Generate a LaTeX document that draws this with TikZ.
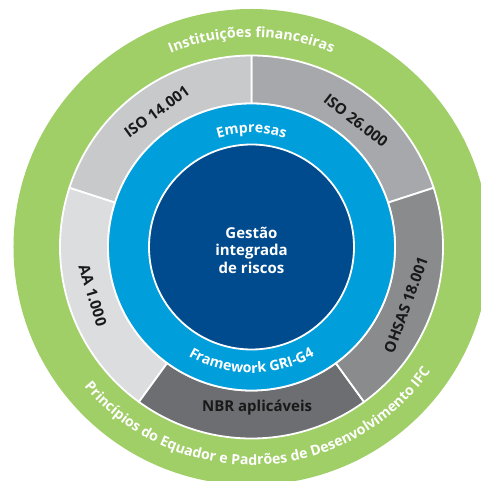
\documentclass[tikz,border=0pt]{standalone}
\usepackage{fontspec}
\setmainfont{Open Sans}
\usetikzlibrary{decorations.text}

\definecolor{ringgreen}{RGB}{160,206,103}
\definecolor{ringblue}{RGB}{0,158,219}
\definecolor{coreblue}{RGB}{0,75,141}
\definecolor{grayA}{RGB}{200,201,203}
\definecolor{grayB}{RGB}{167,168,171}
\definecolor{grayC}{RGB}{138,139,141}
\definecolor{grayD}{RGB}{109,110,113}
\definecolor{grayE}{RGB}{220,221,223}

\begin{document}
\begin{tikzpicture}[x=1pt,y=1pt,
  seglabel/.style={font=\fontsize{15}{17}\selectfont\bfseries, text=black!90, inner sep=0pt},
  corelabel/.style={font=\fontsize{15}{17.5}\selectfont\bfseries, text=white, align=center, inner sep=0pt},
  ringsep/.style={draw=white, line width=1.8pt},
  arctext/.style={decorate, decoration={text along path, text align=center,
    text={|\fontsize{14.2}{16}\selectfont\bfseries\color{white}|#1}}}
]
\clip (-251.5,-234) rectangle (229.5,247);
\useasboundingbox (-251.5,-234) rectangle (229.5,247);

% outer ring: financial institutions
\fill[ringgreen] (0,0) circle (238);

% standards ring, five equal sectors
\foreach \s/\e/\col in {18/90/grayB, 90/162/grayA, 162/234/grayE, 234/306/grayD, 306/378/grayC}
  \filldraw[fill=\col, ringsep]
    (\s:191.5) arc[start angle=\s, end angle=\e, radius=191.5]
    -- (\e:143.5) arc[start angle=\e, end angle=\s, radius=143.5] -- cycle;

% companies ring and core
\filldraw[fill=ringblue, ringsep] (0,0) circle (143.5);
\filldraw[fill=coreblue, ringsep] (0,0) circle (102.5);

% labels of the standards ring
\node[seglabel, rotate=36]  (iso14) at (125:165)   {ISO 14.001};
\node[seglabel, rotate=-38] (iso26) at (50.5:164)  {ISO 26.000};
\node[seglabel, rotate=70]  (ohsas) at (-20.5:165) {OHSAS 18.001};
\node[seglabel, rotate=-73] (aa)    at (197:166)   {AA 1.000};
\node[seglabel]             (nbr)   at (272:161)   {NBR aplicáveis};

% core label
\node[corelabel] (core) at (0,-3) {Gestão\\integrada\\de riscos};

% curved labels
\path[arctext={Instituições financeiras}]
  (130:210) arc[start angle=130, end angle=50, radius=210];
\path[arctext={Princípios do Equador e Padrões de Desenvolvimento IFC}]
  (202.6:218) arc[start angle=202.6, end angle=342.6, radius=218];
\path[arctext={Empresas}]
  (150:114) arc[start angle=150, end angle=30, radius=114];
\path[arctext={Framework GRI-G4}]
  (210:126) arc[start angle=210, end angle=330, radius=126];
\end{tikzpicture}
\end{document}
